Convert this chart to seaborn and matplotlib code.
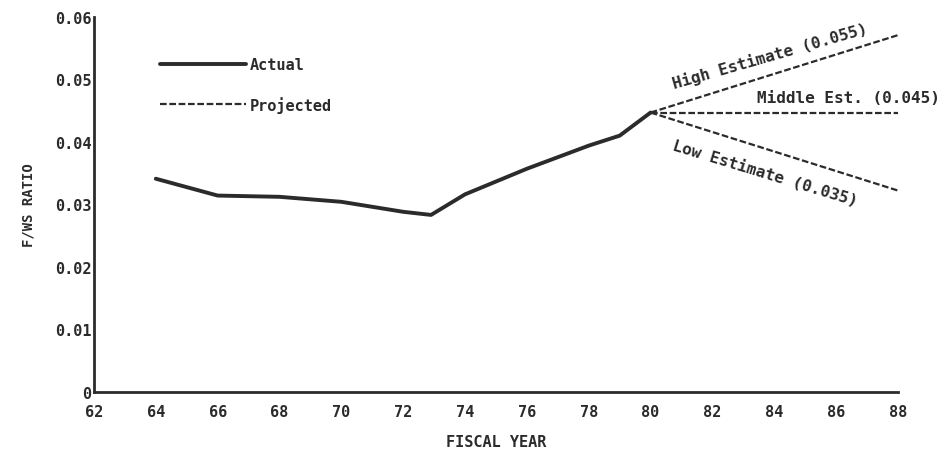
import pandas as pd
import matplotlib
matplotlib.use("Agg")
import matplotlib.pyplot as plt
import seaborn as sns

# data
actual_years = [64, 66, 68, 70, 72, 72.9, 74, 76, 78, 79, 80]
actual_ratio = [0.0341, 0.0314, 0.0312, 0.0304, 0.0288, 0.0283, 0.0316, 0.0357, 0.0394, 0.0410, 0.0447]

proj_years = [80, 88]
high_ratio = [0.0447, 0.0571]
middle_ratio = [0.0447, 0.0447]
low_ratio = [0.0447, 0.0322]

high_label = "High Estimate (0.055)"
middle_label = "Middle Est. (0.045)"
low_label = "Low Estimate (0.035)"

x_ticks = list(range(62, 90, 2))
y_ticks = [0, 0.01, 0.02, 0.03, 0.04, 0.05, 0.06]
y_tick_labels = ["0", "0.01", "0.02", "0.03", "0.04", "0.05", "0.06"]

sns.set_style("white")
plt.rcParams['font.family'] = ['DejaVu Sans Mono', 'DejaVu Sans']
plt.rcParams['font.weight'] = 'bold'

actual_df = pd.DataFrame({"year": actual_years, "ratio": actual_ratio})
proj_df = pd.DataFrame({
    "year": proj_years * 3,
    "ratio": high_ratio + middle_ratio + low_ratio,
    "case": ["high"] * 2 + ["middle"] * 2 + ["low"] * 2,
})

fig = plt.figure(figsize=(9.51, 4.56), dpi=100)
ax = fig.add_axes([0.0988, 0.139, 0.8455, 0.8215])

ink = "#2b2b2b"
sns.lineplot(data=actual_df, x="year", y="ratio", ax=ax, color=ink,
             linewidth=2.8, label="Actual", sort=False)
for case, grp in proj_df.groupby("case", sort=False):
    sns.lineplot(data=grp, x="year", y="ratio", ax=ax, color=ink,
                 linewidth=1.6, linestyle=(0, (3, 1.2)),
                 label="Projected" if case == "high" else "_nolegend_")

ax.set_xlim(62, 88)
ax.set_ylim(0, 0.06)
ax.set_xticks(x_ticks)
ax.set_yticks(y_ticks)
ax.set_yticklabels(y_tick_labels)
ax.tick_params(direction="in", length=5, width=1.8, color=ink,
               labelsize=11, labelcolor=ink)
ax.tick_params(axis="x", pad=9)
ax.tick_params(axis="y", pad=2)
for lab in ax.get_xticklabels() + ax.get_yticklabels():
    lab.set_fontweight("bold")

sns.despine(ax=ax)
for s in ["left", "bottom"]:
    ax.spines[s].set_linewidth(2)
    ax.spines[s].set_color(ink)

ax.set_xlabel("FISCAL YEAR", fontsize=11, fontweight="bold", color=ink, labelpad=11)
ax.set_ylabel("F/WS RATIO", fontsize=10, fontweight="bold", color=ink, labelpad=14)

leg = ax.legend(loc="upper left", bbox_to_anchor=(0.065, 0.93), frameon=False,
                handlelength=5.6, handletextpad=0.3, labelspacing=1.55,
                prop={"size": 11, "weight": "bold"})
for t in leg.get_texts():
    t.set_color(ink)

txt = dict(fontsize=11.5, fontweight="bold", color=ink, ha="center", va="center",
           rotation_mode="anchor")
ax.text(83.85, 0.0539, high_label, rotation=16, **txt)
ax.text(86.39, 0.0471, middle_label, **txt)
ax.text(83.7, 0.0350, low_label, rotation=-17, **txt)

fig.savefig("out.png", dpi=100)
